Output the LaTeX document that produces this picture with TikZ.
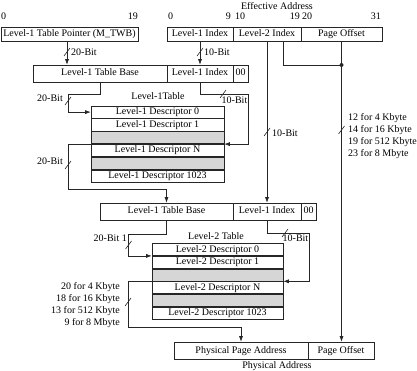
\documentclass[tikz,border=0pt]{standalone}
\usepackage{fontspec}
\setmainfont{Liberation Serif}
\usetikzlibrary{arrows.meta}
\begin{document}
\begin{tikzpicture}[x=1pt,y=-1pt,
  every node/.style={font=\fontsize{10}{12}\selectfont},
  wire/.style={draw=black!85, line width=0.6pt},
  arr/.style={wire, -{Latex[length=5.5pt,width=4pt]}},
  fld/.style={draw=black!85, line width=0.6pt, inner sep=0pt, text height=7pt, text depth=2pt},
  tbl/.style={draw=black!85, line width=0.6pt, inner sep=0pt, text height=7pt, text depth=2pt},
  gap/.style={tbl, fill=black!16},
  lbl/.style={inner sep=0pt},
  tick/.pic={\draw[wire] (-3,4) -- (3,-4);}
]
\useasboundingbox (0,0) rectangle (417,371);

% ---- effective address and table pointer ----
\node[fld, minimum width=137pt, minimum height=14pt] (ptr) at (69.5,34) {Level-1 Table Pointer (M\_TWB)};
\node[fld, minimum width=66pt, minimum height=14pt] (ea1) at (200,34) {Level-1 Index};
\node[fld, minimum width=68pt, minimum height=14pt] (ea2) at (267,34) {Level-2 Index};
\node[fld, minimum width=81pt, minimum height=14pt] (ea3) at (341.5,34) {Page Offset};

\node[lbl, anchor=base] (eatitle) at (277,10) {Effective Address};
\node[lbl, anchor=base west] (b0a) at (1,20) {0};
\node[lbl, anchor=base east] (b19a) at (138,20) {19};
\node[lbl, anchor=base west] (b0) at (168,20) {0};
\node[lbl, anchor=base east] (b9) at (231,20) {9};
\node[lbl, anchor=base west] (b10) at (235,20) {10};
\node[lbl, anchor=base east] (b19) at (300,20) {19};
\node[lbl, anchor=base west] (b20) at (302,20) {20};
\node[lbl, anchor=base east] (b31) at (381,20) {31};

% ---- first level-1 address ----
\node[fld, minimum width=134pt, minimum height=17pt] (tb1) at (100,73.5) {Level-1 Table Base};
\node[fld, minimum width=66pt, minimum height=17pt] (ix1) at (200,73.5) {Level-1 Index};
\node[fld, minimum width=15pt, minimum height=17pt] (zz1) at (240.5,73.5) {00};

% ---- level-1 table ----
\node[lbl, anchor=base] (t1title) at (158,99.5) {Level-1Table};
\node[tbl, minimum width=133pt, minimum height=12.2pt] (t1d0) at (157.5,112.1) {Level-1 Descriptor 0};
\node[tbl, minimum width=133pt, minimum height=12.2pt, anchor=north] (t1d1) at (t1d0.south) {Level-1 Descriptor 1};
\node[gap, minimum width=133pt, minimum height=12.2pt, anchor=north] (t1g1) at (t1d1.south) {};
\node[tbl, minimum width=133pt, minimum height=12.2pt, anchor=north] (t1dN) at (t1g1.south) {Level-1 Descriptor N};
\node[gap, minimum width=133pt, minimum height=12.2pt, anchor=north] (t1g2) at (t1dN.south) {};
\node[tbl, minimum width=133pt, minimum height=12.2pt, anchor=north] (t1dL) at (t1g2.south) {Level-1 Descriptor 1023};

% ---- second level-1 address ----
\node[fld, minimum width=133pt, minimum height=17pt] (tb2) at (166.5,211.5) {Level-1 Table Base};
\node[fld, minimum width=68pt, minimum height=17pt] (ix2) at (267,211.5) {Level-1 Index};
\node[fld, minimum width=15pt, minimum height=17pt] (zz2) at (308.5,211.5) {00};

% ---- level-2 table ----
\node[lbl, anchor=base] (t2title) at (216,239) {Level-2 Table};
\node[tbl, minimum width=131pt, minimum height=12.1pt] (t2d0) at (217.5,249.55) {Level-2 Descriptor 0};
\node[tbl, minimum width=131pt, minimum height=12.1pt, anchor=north] (t2d1) at (t2d0.south) {Level-2 Descriptor 1};
\node[gap, minimum width=131pt, minimum height=12.1pt, anchor=north] (t2g1) at (t2d1.south) {};
\node[tbl, minimum width=131pt, minimum height=12.1pt, anchor=north] (t2dN) at (t2g1.south) {Level-2 Descriptor N};
\node[gap, minimum width=131pt, minimum height=12.1pt, anchor=north] (t2g2) at (t2dN.south) {};
\node[tbl, minimum width=131pt, minimum height=12.1pt, anchor=north] (t2dL) at (t2g2.south) {Level-2 Descriptor 1023};

% ---- physical address ----
\node[fld, minimum width=134pt, minimum height=17pt] (pa) at (241,350.5) {Physical Page Address};
\node[fld, minimum width=66pt, minimum height=17pt] (po) at (341,350.5) {Page Offset};
\node[lbl, anchor=base] (patitle) at (277,368) {Physical Address};

% ---- connectors ----
\coordinate (c1) at (67,0);
\draw[arr] (c1 |- ptr.south) -- (c1 |- tb1.north);
\pic at (67,52) {tick};
\node[lbl, anchor=base west] (w1) at (71,56) {20-Bit};

\draw[arr] (ea1.south) -- (ix1.north);
\pic at (200,52) {tick};
\node[lbl, anchor=base west] (w2) at (204,56) {10-Bit};

\draw[arr] (tb1.south) |- (68,94) |- (t1d0.west);
\pic at (68,101) {tick};
\node[lbl, anchor=base east] (w3) at (63,102) {20-Bit};

\draw[arr] (ix1.south) |- (248,94) |- (t1dN.north east);
\pic at (223,94) {tick};
\node[lbl, anchor=base east] (w4) at (247.5,103.5) {10-Bit};

\draw[arr] (t1dN.north west) -| (68,189) -| (tb2.north);
\pic at (68,165) {tick};
\node[lbl, anchor=base east] (w5) at (63,165) {20-Bit};

\draw[arr] (ea2.south) -- (ix2.north);
\pic at (267,132) {tick};
\node[lbl, anchor=base west] (w6) at (272,136.5) {10-Bit};

\coordinate (jn) at (ea3.south |- 0,65);
\draw[wire] ([xshift=16pt]ea2.south) |- (jn);
\fill[black!85] (jn) circle (2pt);
\draw[arr] (ea3.south) -- (ea3.south |- po.north);
\pic at (341.5,130) {tick};
\node[lbl, anchor=base west] (p1) at (348,120.5) {12 for 4 Kbyte};
\node[lbl, anchor=base west] (p2) at (348,132.5) {14 for 16 Kbyte};
\node[lbl, anchor=base west] (p3) at (348,144.5) {19 for 512 Kbyte};
\node[lbl, anchor=base west] (p4) at (348,156.5) {23 for 8 Mbyte};

\draw[arr] (tb2.south) |- (128,234) |- (t2d0.south west);
\pic at (128.5,245) {tick};
\node[lbl, anchor=base east] (w8) at (127,241.5) {20-Bit 1};

\draw[arr] (ix2.south) |- (309,233) |- (t2dN.north east);
\pic at (285,233) {tick};
\node[lbl, anchor=base west] (w9) at (282.5,241.5) {10-Bit};

\draw[arr] (t2dN.north west) -| (128,327) -| (pa.north);
\pic at (128,302) {tick};
\node[lbl, anchor=base east] (q1) at (120,289.5) {20 for 4 Kbyte};
\node[lbl, anchor=base east] (q2) at (120,301.5) {18 for 16 Kbyte};
\node[lbl, anchor=base east] (q3) at (120,313.5) {13 for 512 Kbyte};
\node[lbl, anchor=base east] (q4) at (120,325.5) {9 for 8 Mbyte};
\end{tikzpicture}
\end{document}
